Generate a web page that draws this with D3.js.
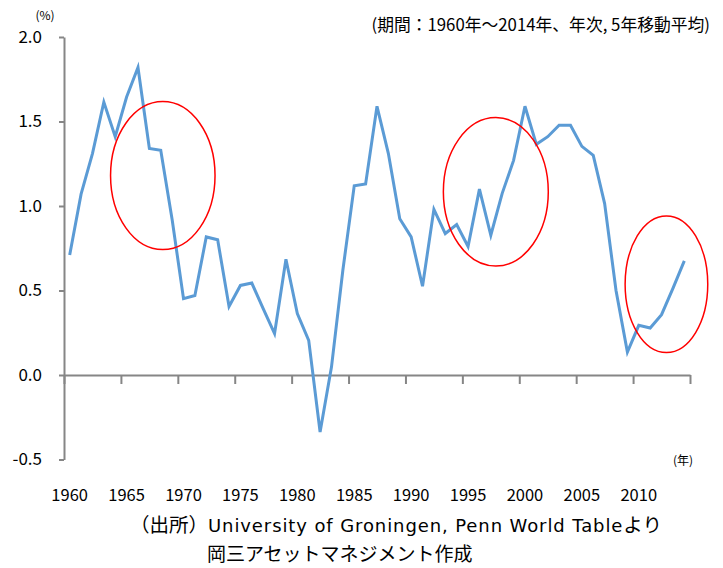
<!DOCTYPE html>
<html>
<head>
<meta charset="utf-8">
<script src="https://cdn.jsdelivr.net/npm/d3@7"></script>
<style>
  body { margin: 0; background: #fff; }
  text { font-family: "Noto Sans CJK JP", "Noto Sans", sans-serif; fill: #000; }
</style>
</head>
<body>
<script>
// 5年移動平均 (%)
const years = d3.range(1960, 2015);
const values = [
  0.71, 1.07, 1.31, 1.615, 1.41, 1.645, 1.82, 1.34, 1.33, 0.92,
  0.452, 0.47, 0.817, 0.80, 0.406, 0.53, 0.544, 0.393, 0.245, 0.685,
  0.363, 0.205, -0.337, 0.047, 0.62, 1.12, 1.13, 1.59, 1.31, 0.925,
  0.817, 0.525, 0.98, 0.837, 0.89, 0.76, 1.10, 0.827, 1.075, 1.27,
  1.59, 1.365, 1.41, 1.478, 1.478, 1.353, 1.30, 1.014, 0.50, 0.136,
  0.294, 0.278, 0.357, 0.513, 0.675
];
const yTicks = [-0.5, 0, 0.5, 1.0, 1.5, 2.0];
const xLabels = [1960, 1965, 1970, 1975, 1980, 1985, 1990, 1995, 2000, 2005, 2010];
// 赤丸: 中心(年, 値), 半径(年, 値)
const circles = [
  { year: 1968.18, value: 1.18, ry: 4.59, rv: 0.438 },
  { year: 1997.44, value: 1.084, ry: 4.61, rv: 0.439 },
  { year: 2012.43, value: 0.537, ry: 3.63, rv: 0.404 }
];

const w = 723, h = 568;
const svg = d3.select("body").append("svg")
  .attr("width", w)
  .attr("height", h);

const x = d3.scaleLinear().domain([1959.5, 2014.5]).range([64, 690]);
const y = d3.scaleLinear().domain([-0.5, 2.0]).range([459.5, 37]);

const axisColor = "#868686";

// y axis
const yAxis = svg.append("g")
  .attr("transform", "translate(" + x(1959.5) + ",0)")
  .call(d3.axisLeft(y).tickValues(yTicks).tickSize(5).tickSizeOuter(0)
    .tickFormat(d => d.toFixed(1)));
yAxis.selectAll("path, line").attr("stroke", axisColor).attr("stroke-width", 2);
yAxis.selectAll("text")
  .attr("x", -22)
  .style("font-size", "17px")
  .style("font-family", "'Noto Sans CJK JP', sans-serif");

// x axis on zero line
const xAxis = svg.append("g")
  .attr("transform", "translate(0," + y(0) + ")")
  .call(d3.axisBottom(x).tickValues(d3.range(1959.5, 2015, 5)).tickSize(9).tickSizeOuter(0)
    .tickFormat(""));
xAxis.selectAll("path, line").attr("stroke", axisColor).attr("stroke-width", 2);

// x labels at bottom
svg.append("g").selectAll("text")
  .data(xLabels)
  .enter()
  .append("text")
  .attr("x", d => x(d))
  .attr("y", 501)
  .attr("text-anchor", "middle")
  .style("font-size", "16.5px")
  .text(d => d);

// line
const line = d3.line()
  .x((d, i) => x(years[i]))
  .y(d => y(d));
svg.append("path")
  .datum(values)
  .attr("d", line)
  .attr("fill", "none")
  .attr("stroke", "#5B9BD5")
  .attr("stroke-width", 3)
  .attr("stroke-linejoin", "miter");

// ellipses
svg.append("g").selectAll("ellipse")
  .data(circles)
  .enter()
  .append("ellipse")
  .attr("cx", d => x(d.year))
  .attr("cy", d => y(d.value))
  .attr("rx", d => x(d.year + d.ry) - x(d.year))
  .attr("ry", d => y(d.value - d.rv) - y(d.value))
  .attr("fill", "none")
  .attr("stroke", "#FF0000")
  .attr("stroke-width", 1.5);

// texts
svg.append("text")
  .attr("x", 45).attr("y", 20)
  .attr("text-anchor", "middle")
  .style("font-size", "12px")
  .text("(%)");

svg.append("text")
  .attr("x", 710).attr("y", 31)
  .attr("text-anchor", "end")
  .style("font-size", "16.8px")
  .text("(期間：1960年～2014年、年次, 5年移動平均)");

svg.append("text")
  .attr("x", 693).attr("y", 465)
  .attr("text-anchor", "end")
  .style("font-size", "12px")
  .text("(年)");

const src = svg.append("text")
  .attr("x", 130).attr("y", 532)
  .style("font-size", "19.5px");
src.append("tspan").text("（出所）");
src.append("tspan")
  .style("font-family", "'DejaVu Sans', sans-serif")
  .style("font-size", "18px")
  .style("letter-spacing", "0.9px")
  .text("University of Groningen, Penn World Table");
src.append("tspan").text("より");

svg.append("text")
  .attr("x", 207).attr("y", 561)
  .style("font-size", "19px")
  .text("岡三アセットマネジメント作成");
</script>
</body>
</html>
